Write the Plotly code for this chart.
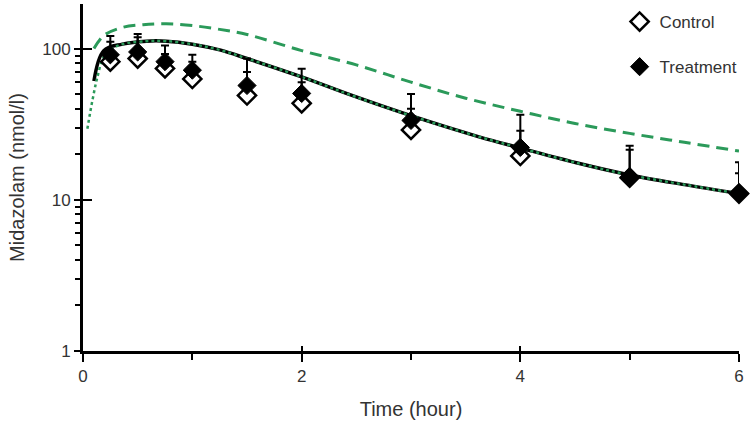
import plotly.graph_objects as go

# sampling times (hour)
times = [0.25, 0.5, 0.75, 1, 1.5, 2, 3, 4, 5, 6]

# observed midazolam (nmol/l)
control_mean = [82, 86, 74, 63, 49, 43.5, 29, 19.5, 14, 11]
treat_mean = [91, 95, 82, 72, 57, 50.5, 33.5, 22.2, 14.2, 11.1]
# top of the error bars
control_top = [111, 119, 92, 82, 70, 60, 40, 28.6, 21.4, 15]
treat_top = [121, 125, 105, 91, 86, 73.7, 50, 36.5, 22.8, 17.7]

# model curves
sim_t = [0.1, 0.19, 0.36, 0.58, 0.76, 1.0, 1.25, 1.5, 2.0, 2.46, 3.0, 3.63, 4.0, 4.55, 5.0, 5.5, 6.0]
sim_vals = [61, 97, 107, 112, 112, 107, 98, 86, 65, 49, 36, 26, 22, 17.3, 14.6, 12.6, 11.0]

dot_t = [0.04, 0.085, 0.13, 0.19, 0.27, 0.36, 0.58, 0.76, 1.0, 1.25, 1.5, 2.0, 2.46, 3.0, 3.63, 4.0, 4.55, 5.0, 5.5, 6.0]
dot_vals = [29.5, 45, 64, 88, 100, 107, 112, 112, 107, 98, 86, 65, 49, 36, 26, 22, 17.3, 14.6, 12.6, 11.0]

dash_t = [0.1, 0.19, 0.36, 0.55, 0.76, 1.0, 1.25, 1.5, 2.0, 2.5, 3.0, 3.5, 4.0, 4.5, 5.0, 5.5, 6.0]
dash_vals = [100, 122, 138, 144, 146, 142, 134, 124, 97, 78, 60, 47, 38.5, 32, 27.5, 24, 21]

GREEN = "#2b9a5a"
FONT = "Liberation Sans, Arial, sans-serif"

fig = go.Figure()

fig.add_trace(go.Scatter(x=sim_t, y=sim_vals, mode="lines", line_shape="spline",
                         line=dict(color="black", width=3.5), showlegend=False, hoverinfo="skip"))
fig.add_trace(go.Scatter(x=dot_t, y=dot_vals, mode="lines", line_shape="spline",
                         line=dict(color=GREEN, width=2.5, dash="dot"), showlegend=False, hoverinfo="skip"))
fig.add_trace(go.Scatter(x=dash_t, y=dash_vals, mode="lines", line_shape="spline",
                         line=dict(color=GREEN, width=3, dash="12px,7px"), showlegend=False, hoverinfo="skip"))

fig.add_trace(go.Scatter(
    x=times, y=control_mean, mode="markers", name="Control", legendgroup="c",
    marker=dict(symbol="diamond", size=14, color="white", line=dict(color="black", width=2.5)),
    error_y=dict(type="data", symmetric=False,
                 array=[t - m for t, m in zip(control_top, control_mean)],
                 arrayminus=[0] * len(times), color="black", thickness=2, width=4),
    cliponaxis=False))
fig.add_trace(go.Scatter(
    x=times, y=treat_mean, mode="markers", name="Treatment", legendgroup="t",
    marker=dict(symbol="diamond", size=14, color="black", line=dict(color="black", width=1)),
    error_y=dict(type="data", symmetric=False,
                 array=[t - m for t, m in zip(treat_top, treat_mean)],
                 arrayminus=[0] * len(times), color="black", thickness=2, width=4),
    cliponaxis=False))

# empty trace so the overlay axes (inner half of the crossing ticks) get drawn
fig.add_trace(go.Scatter(x=[], y=[], xaxis="x2", yaxis="y2", showlegend=False))

YR = [0, 2.295]
fig.update_layout(
    width=750, height=423,
    margin=dict(l=83, r=11, t=4, b=72),
    plot_bgcolor="white", paper_bgcolor="white",
    font=dict(family=FONT, size=17, color="#333"),
    showlegend=True,
    # kept inside the plot area so it doesn't push the margins
    legend=dict(x=0.818, y=1.0, xanchor="left", yanchor="top",
                font=dict(size=17, color="#333"), tracegroupgap=20,
                bgcolor="rgba(0,0,0,0)", itemwidth=30),
    xaxis=dict(range=[0, 6], tickvals=[0, 2, 4, 6], ticks="outside", ticklen=8, tickwidth=2,
               tickcolor="black", showline=True, linecolor="black", linewidth=3,
               showgrid=False, zeroline=False, automargin=False,
               minor=dict(tickvals=[1, 3, 5], ticks="outside", ticklen=6, tickwidth=2, tickcolor="black"),
               title=dict(text="Time (hour)", standoff=17)),
    yaxis=dict(type="log", range=YR, tickvals=[1, 10, 100], ticktext=["1", "10", "100"],
               ticks="outside", ticklen=6, tickwidth=2, tickcolor="black",
               showline=True, linecolor="black", linewidth=3, showgrid=False, zeroline=False,
               automargin=False,
               minor=dict(dtick="D1", ticks="outside", ticklen=5, tickwidth=2, tickcolor="black"),
               title=dict(text="Midazolam (nmol/l)", standoff=13)),
    xaxis2=dict(overlaying="x", range=[0, 6], tickvals=[0, 2, 4, 6], ticks="inside", ticklen=5,
                tickwidth=2, tickcolor="black", showticklabels=False, showgrid=False,
                zeroline=False, showline=False, side="bottom"),
    yaxis2=dict(overlaying="y", type="log", range=YR, tickvals=[1, 10, 100, 196], ticks="inside",
                ticklen=9, tickwidth=2, tickcolor="black", showticklabels=False, showgrid=False,
                zeroline=False, showline=False, side="left"),
)

# drop the browser's default 8px body margin so the figure sits at the page corner
fig.write_html("out.html", config={"displayModeBar": False},
               post_script="document.body.style.margin='0';")
